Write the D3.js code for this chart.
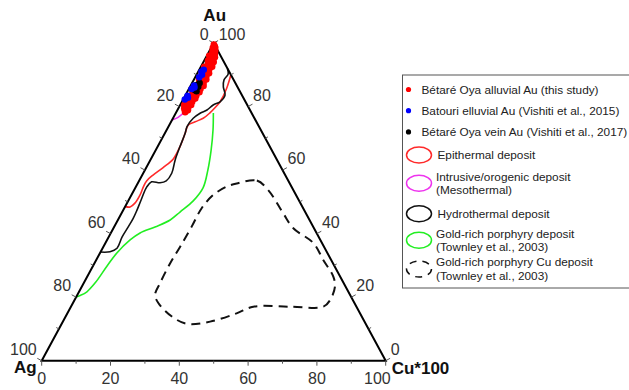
<!DOCTYPE html>
<html>
<head>
<meta charset="utf-8">
<script src="https://cdn.jsdelivr.net/npm/d3@7"></script>
<style>
  body { margin: 0; background: #fff; }
  text { font-family: "Liberation Sans", Arial, sans-serif; }
</style>
</head>
<body>
<div id="chart"></div>
<script>
// every point is [Au, Cu*100] in %, Ag = 100 - Au - Cu
const alluvialAu = [
  [99.5,0.3],[99,0.8],[98.5,0.5],[98.5,1.2],[97.5,0.9],[97.5,1.7],[96.5,1.3],[96.5,2.1],[96,0.7],
  [95.5,1.8],[95.5,2.6],[94.5,1.1],[94.5,2.3],[94,3.0],[93.5,1.6],[93.5,2.8],[92.5,1.0],[92.5,2.2],
  [92.5,3.3],[91.5,1.9],[91.5,2.9],[90.5,1.3],[90.5,2.5],[90.5,3.4],[89.5,2.0],[89.5,3.1],[88.5,1.5],
  [88.5,2.7],[88.5,3.6],[87.5,2.2],[87.5,3.3],[86.5,1.8],[86.5,2.9],[86.5,3.8],[85.5,2.5],[85.5,3.4],
  [84.5,1.6],[84.5,2.8],[84.5,3.6],[83.5,2.1],[83.5,3.2],[82.5,1.4],[82.5,2.6],[82.5,3.4],[81.5,1.9],
  [81.5,3.0],[80.5,1.2],[80.5,2.4],[80.5,3.2],[79.5,1.7],[79.5,2.8],[78.8,2.2],[78.8,3.1],[78.2,2.6]
];
const elluvialAu = [
  [91.6,1.3],[90.9,1.0],[90.0,1.6],[89.2,1.2],[86.6,1.0],[86.0,1.4],[85.5,0.8],[83.4,0.7],[82.8,1.1],[82.2,0.5]
];
const veinAu = [[87.4,2.2],[86.8,1.6],[86.2,2.4],[85.9,1.1],[85.2,1.9],[84.8,2.6]];

const epithermal = [
  [90,10],[85.7,10.9],[81.5,11.1],[80,10.7],[78,9.9],[76.3,8.8],[75.2,7],[74.2,5.5],[71.6,5.9],[67.4,6.5],
  [63.5,6.5],[60.8,4.9],[58.5,3.2],[56.6,2.2],[54.7,2.2],[52.2,2.5],[49.6,2.3],[48.4,1.5],[48.5,0.1]
];
const intrusive = [[75.8,0],[76.6,1.35],[78.6,2.4],[80.8,2.7],[88.4,1.8],[94.7,1.0],[99.7,0.15]];
const hydrothermal = [
  [34.2,0],[34.3,2.7],[35.4,4.2],[38.9,3.9],[42.2,4.1],[44.8,4.2],[47.4,4.0],[50.6,3.6],[54.7,3.2],
  [56.3,3.8],[56.0,6.4],[56.6,7.9],[59.0,8.3],[63.2,7.2],[67.4,6.5],[71.6,5.9],[73.7,5.4],[76.3,5.9],
  [77.9,7.1],[78.9,8.6],[80.5,9.6],[81.5,11.1],[83.6,11.5],[86.2,9.7],[88.4,8.8],[90.2,9.1],[92,8]
];
const porphyry = [
  [78,10.9],[72.6,13.5],[66.3,16.1],[60,18.3],[54.4,19.7],[50.3,18.9],[46.8,16.8],[44.3,15.2],[42.1,11.9],
  [40.2,8.5],[38,6.7],[33.9,4.9],[29.8,4.1],[24.5,3.3],[21.7,2.3],[20.5,0.9],[20.05,0]
];
const porphyryCu = [
  [55.8,28.8],[56.7,34.2],[53.7,39],[46.4,47],[41.7,52.3],[37,60.5],[31.7,66],[26.4,71.6],[23.3,73.6],
  [19.1,74.3],[17,73.4],[17,63.7],[17,53],[14.9,49.2],[12.3,42.8],[11.6,36.4],[13.9,30.9],[18.1,24.9],
  [20.7,22.6],[24.4,22.2],[30.7,22],[35.9,22.3],[42.2,22.5],[48,22.5],[52.2,23.8],[54.8,26.4]
];

const tickValues = d3.range(0, 101, 10);
const legendPoints = [
  ['Bétaré Oya alluvial Au (this study)', '#ff0000'],
  ['Batouri elluvial Au (Vishiti et al., 2015)', '#0000ff'],
  ['Bétaré Oya vein Au (Vishiti et al., 2017)', '#000000']
];
const legendFields = [
  [['Epithermal deposit'], '#ff2a2a', false],
  [['Intrusive/orogenic deposit', '(Mesothermal)'], '#ee33ee', false],
  [['Hydrothermal deposit'], '#111111', false],
  [['Gold-rich porphyry deposit', '(Townley et al., 2003)'], '#22ee22', false],
  [['Gold-rich porphyry Cu deposit', '(Townley et al., 2003)'], '#111111', true]
];

const width = 629, height = 390;
const svg = d3.select('#chart').append('svg')
  .attr('width', width).attr('height', height);

const x = d3.scaleLinear().domain([0, 100]).range([41.7, 385.7]);
const y = d3.scaleLinear().domain([0, 100]).range([360.7, 43]);
const pos = d => [x(d[1] + d[0] / 2), y(d[0])];

const vAg = pos([0, 0]), vAu = pos([100, 0]), vCu = pos([0, 100]);

// fields
const line = d3.line().x(d => pos(d)[0]).y(d => pos(d)[1]).curve(d3.curveCatmullRom.alpha(0.5));
const closed = d3.line().x(d => pos(d)[0]).y(d => pos(d)[1]).curve(d3.curveCatmullRomClosed.alpha(0.5));
const fields = svg.append('g').attr('fill', 'none').attr('stroke-width', 1.6);
fields.append('path').attr('d', closed(porphyryCu)).attr('stroke', '#111').attr('stroke-width', 2)
  .attr('stroke-dasharray', '9,6');
fields.append('path').attr('d', line(porphyry)).attr('stroke', '#22ee22');
fields.append('path').attr('d', line(epithermal)).attr('stroke', '#ff2a2a');
fields.append('path').attr('d', line(hydrothermal)).attr('stroke', '#111');
fields.append('path').attr('d', line(intrusive)).attr('stroke', '#ee33ee');

// triangle
svg.append('path')
  .attr('d', 'M' + vAg + 'L' + vAu + 'L' + vCu + 'Z')
  .attr('fill', 'none').attr('stroke', '#000').attr('stroke-width', 2)
  .attr('stroke-linejoin', 'miter');

// ticks and labels
const len = Math.hypot(vAu[0] - vAg[0], vAu[1] - vAg[1]);
const dx = (vAu[0] - vAg[0]) / len, dy = (vAu[1] - vAg[1]) / len;
const axes = [
  { pt: v => pos([100 - v, 0]), n: [dy, -dx], anchor: 'end', lx: -5, ly: -6 },   // Ag, left
  { pt: v => pos([v, 100 - v]), n: [-dy, -dx], anchor: 'start', lx: 5, ly: -6 }, // Au, right
  { pt: v => pos([0, v]), n: [0, 1], anchor: 'middle', lx: 0, ly: 23 }           // Cu, bottom
];
const tickG = svg.append('g');
axes.forEach((ax, ai) => {
  tickValues.forEach(v => {
    const p = ax.pt(v), major = v % 20 === 0, l = major ? 5 : 3;
    tickG.append('line')
      .attr('x1', p[0]).attr('y1', p[1])
      .attr('x2', p[0] + ax.n[0] * l).attr('y2', p[1] + ax.n[1] * l)
      .attr('stroke', '#555').attr('stroke-width', 1);
    if (major) {
      let lx = p[0] + ax.lx, ly = p[1] + ax.ly, anchor = ax.anchor;
      if (ai < 2 && ((ai == 0 && v == 0) || (ai == 1 && v == 100))) ly += 3; // apex labels
      if (ai == 2 && v == 100) { anchor = 'end'; lx = p[0] + 5; }
      tickG.append('text')
        .attr('x', lx).attr('y', ly)
        .attr('text-anchor', anchor)
        .attr('font-size', 16).attr('fill', '#333')
        .text(v);
    }
  });
});

// vertex names
const names = svg.append('g').attr('font-size', 17).attr('font-weight', 'bold').attr('fill', '#111');
names.append('text').attr('x', vAu[0] + 1).attr('y', 21).attr('text-anchor', 'middle').text('Au');
names.append('text').attr('x', vAg[0] - 5).attr('y', 373).attr('text-anchor', 'end').text('Ag');
names.append('text').attr('x', vCu[0] + 6).attr('y', 374).attr('text-anchor', 'start').text('Cu*100');

// samples
const dots = svg.append('g');
[[alluvialAu, '#ff0000'], [veinAu, '#000000'], [elluvialAu, '#0000ff']].forEach(([data, c]) => {
  dots.selectAll(null).data(data).enter().append('circle')
    .attr('cx', d => pos(d)[0]).attr('cy', d => pos(d)[1])
    .attr('r', 3.3).attr('fill', c);
});

// legend
const lg = svg.append('g').attr('transform', 'translate(402.5,75)');
lg.append('rect').attr('width', 240).attr('height', 213)
  .attr('fill', '#fff').attr('stroke', '#555').attr('stroke-width', 1);
legendPoints.forEach(([label, c], i) => {
  const cy = 14.5 + i * 21.2;
  lg.append('circle').attr('cx', 6).attr('cy', cy).attr('r', 2.6).attr('fill', c);
  lg.append('text').attr('x', 19).attr('y', cy + 4).attr('font-size', 11.8).attr('fill', '#222').text(label);
});
const fieldY = [80, 108.3, 138.7, 165.3, 194];
legendFields.forEach(([lines, c, dashed], i) => {
  const cy = fieldY[i];
  lg.append('ellipse').attr('cx', 16.5).attr('cy', cy).attr('rx', 12.5).attr('ry', 8)
    .attr('fill', 'none').attr('stroke', c).attr('stroke-width', 1.5)
    .attr('stroke-dasharray', dashed ? '7,6' : null);
  const tx = lines.length > 1 ? 33.5 : 35;
  const t = lg.append('text').attr('x', tx).attr('font-size', 11.8).attr('fill', '#222');
  lines.forEach((s, k) => {
    t.append('tspan').attr('x', tx)
      .attr('y', cy + 4 + (lines.length > 1 ? (k - 0.5) * 13.3 : 0)).text(s);
  });
});
</script>
</body>
</html>
